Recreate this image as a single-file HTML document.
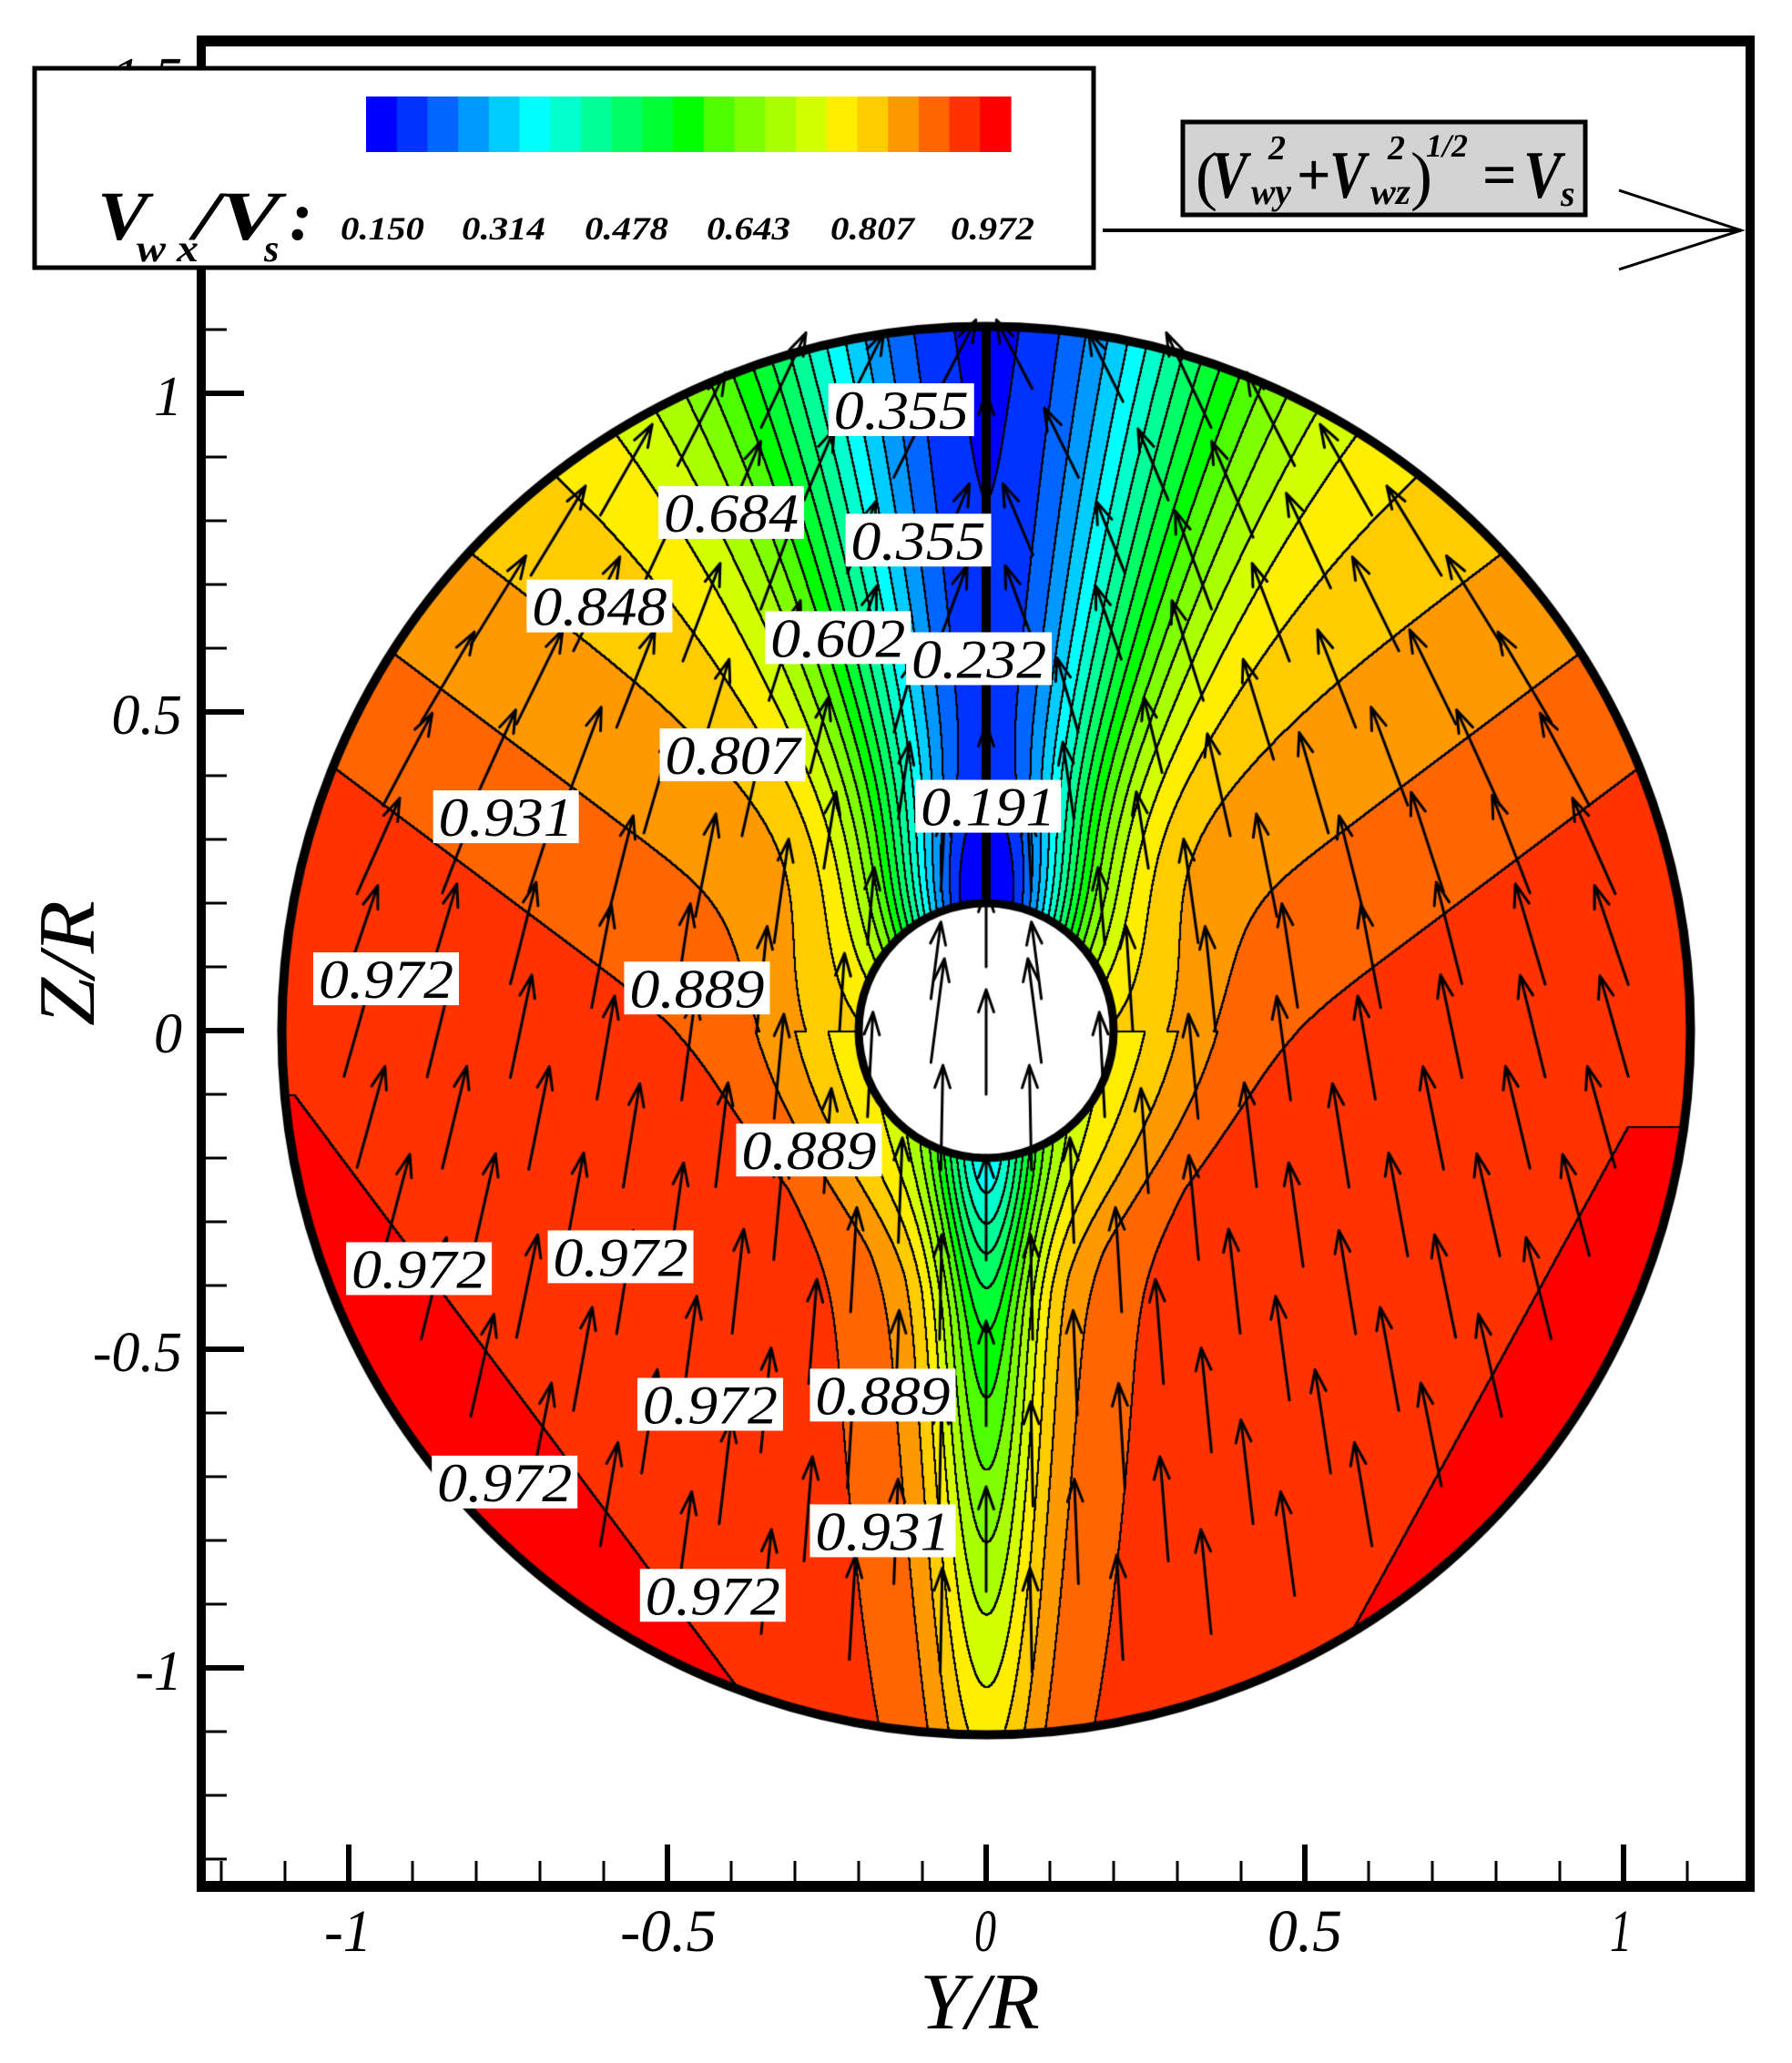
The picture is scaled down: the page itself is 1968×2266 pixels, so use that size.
<!DOCTYPE html>
<html><head><meta charset="utf-8"><style>
html,body{margin:0;padding:0;background:#fff;}
#wrap{position:relative;width:1968px;height:2266px;overflow:hidden;}
canvas,svg{position:absolute;left:0;top:0;}
</style></head><body><div id="wrap">
<canvas id="c" width="1968" height="2266"></canvas>
<svg width="1968" height="2266" viewBox="0 0 1968 2266" font-family="'Liberation Serif',serif">
<g id="ticks" stroke="#000"></g>
<rect x="221" y="45" width="1701" height="2027" fill="none" stroke="#000" stroke-width="10"/>
<line x1="216" y1="45" x2="1927" y2="45" stroke="#000" stroke-width="12"/>
<line x1="216" y1="2072" x2="1927" y2="2072" stroke="#000" stroke-width="12"/>
<g font-style="italic" font-size="66">
<text x="382" y="2143" text-anchor="middle" textLength="52" lengthAdjust="spacingAndGlyphs">-1</text>
<text x="734" y="2143" text-anchor="middle" textLength="106" lengthAdjust="spacingAndGlyphs">-0.5</text>
<text x="1082" y="2143" text-anchor="middle" textLength="24" lengthAdjust="spacingAndGlyphs">0</text>
<text x="1433" y="2143" text-anchor="middle" textLength="82" lengthAdjust="spacingAndGlyphs">0.5</text>
<text x="1780" y="2143" text-anchor="middle" textLength="24" lengthAdjust="spacingAndGlyphs">1</text>
</g>
<g font-style="italic" font-size="62" text-anchor="end">
<text x="200" y="456">1</text>
<text x="200" y="806">0.5</text>
<text x="200" y="1156">0</text>
<text x="200" y="1506">-0.5</text>
<text x="200" y="1856">-1</text>
<text x="200" y="106">1.5</text>
</g>
<text x="1076" y="2228" text-anchor="middle" font-style="italic" font-size="88" textLength="132" lengthAdjust="spacingAndGlyphs">Y/R</text>
<text transform="translate(103,1058) rotate(-90)" text-anchor="middle" font-style="italic" font-size="88" textLength="138" lengthAdjust="spacingAndGlyphs">Z/R</text>
<rect x="38" y="75" width="1163" height="219" fill="#fff" stroke="#000" stroke-width="5"/>
<g id="cbar"></g>
<g font-weight="bold" font-style="italic">
<text x="107" y="263" font-size="76" textLength="56" lengthAdjust="spacingAndGlyphs">V</text>
<text x="150" y="287" font-size="42" textLength="68" lengthAdjust="spacingAndGlyphs">w x</text>
<text x="213" y="263" font-size="76" textLength="95" lengthAdjust="spacingAndGlyphs">/V</text>
<text x="290" y="287" font-size="42">s</text>
<text x="318" y="263" font-size="76">:</text>
</g>
<g font-weight="bold" font-style="italic" font-size="36" text-anchor="middle">
<text x="420" y="263" textLength="92" lengthAdjust="spacingAndGlyphs">0.150</text>
<text x="553" y="263" textLength="92" lengthAdjust="spacingAndGlyphs">0.314</text>
<text x="688" y="263" textLength="92" lengthAdjust="spacingAndGlyphs">0.478</text>
<text x="822" y="263" textLength="92" lengthAdjust="spacingAndGlyphs">0.643</text>
<text x="958" y="263" textLength="92" lengthAdjust="spacingAndGlyphs">0.807</text>
<text x="1090" y="263" textLength="92" lengthAdjust="spacingAndGlyphs">0.972</text>
</g>
<rect x="1299" y="134" width="442" height="102" fill="#d3d3d3" stroke="#000" stroke-width="5"/>
<g font-weight="bold" font-style="italic">
<text x="1313" y="217" font-size="72" font-style="normal" font-weight="normal">(</text>
<text x="1330" y="217" font-size="74" textLength="40" lengthAdjust="spacingAndGlyphs">V</text>
<text x="1374" y="224" font-size="40" textLength="44" lengthAdjust="spacingAndGlyphs">wy</text>
<text x="1393" y="175" font-size="38">2</text>
<text x="1424" y="214" font-size="66" font-style="normal">+</text>
<text x="1460" y="217" font-size="74" textLength="40" lengthAdjust="spacingAndGlyphs">V</text>
<text x="1505" y="224" font-size="40" textLength="44" lengthAdjust="spacingAndGlyphs">wz</text>
<text x="1524" y="175" font-size="38">2</text>
<text x="1549" y="217" font-size="72" font-style="normal" font-weight="normal">)</text>
<text x="1566" y="172" font-size="36" textLength="46" lengthAdjust="spacingAndGlyphs">1/2</text>
<text x="1628" y="214" font-size="66" font-style="normal">=</text>
<text x="1673" y="217" font-size="74" textLength="42" lengthAdjust="spacingAndGlyphs">V</text>
<text x="1714" y="226" font-size="40">s</text>
</g>
<line x1="1211" y1="253" x2="1912" y2="253" stroke="#000" stroke-width="4"/>
<polyline points="1778,209 1912,253 1778,296" fill="none" stroke="#000" stroke-width="3"/>
<g id="labs" font-style="italic" font-size="60"></g>
</svg>
</div>
<script>
var CX=1083,CY=1132,S=700,RO=1.105,RI=0.2;
var cols=["#0000ff","#0033ff","#0066ff","#0099ff","#00ccff","#00ffff","#00ffcc","#00ff99","#00ff66","#00ff33","#00ff00","#4dff00","#80ff00","#aaff00","#d4ff00","#ffee00","#ffcc00","#ff9900","#ff6600","#ff3300","#ff0000"];
function hex(h){return [parseInt(h.substr(1,2),16),parseInt(h.substr(3,2),16),parseInt(h.substr(5,2),16)];}
var rgb=cols.map(hex);
function f(y,z){
  var r=Math.hypot(y,z),ay=Math.abs(y);
  var s=z-0.75*ay+0.43;
  var base=0.931-0.165*(s-0.075);
  if(base>0.952)base=0.952;
  if(y<0){var d=-0.801*y-0.599*z-0.93; if(d>0&&z<-0.1)base=0.985;}
  else{var d2=0.877*y-0.48*z-0.955; if(d2>0&&z<-0.15)base=0.985;}
  var v;
  if(z>=0){
    var w=0.09+0.25*z;
    v=base*(1-0.74*Math.exp(-(y/w)*(y/w)));
  }else{
    var az=-z, D=0.51-0.38*(az-0.2); if(D<0.14)D=0.14;
    v=base*(1-D*(0.7*Math.exp(-(y/0.075)*(y/0.075))+0.3*Math.exp(-(y/0.18)*(y/0.18))));
  }
  v-=0.08*Math.exp(-Math.pow((r-0.2)/0.15,2));
  return v;
}
function band(v){var k=Math.floor((v-0.15)/0.0411);if(k<0)k=0;if(k>20)k=20;return k;}
var cv=document.getElementById('c'),ctx=cv.getContext('2d');
var x0=Math.floor(CX-RO*S)-2,x1=Math.ceil(CX+RO*S)+2,y0=Math.floor(CY-RO*S)-2,y1=Math.ceil(CY+RO*S)+2;
var bw=x1-x0,bh=y1-y0;
var K=new Int8Array(bw*bh);
for(var j=0;j<bh;j++)for(var i=0;i<bw;i++){
  var y=(x0+i-CX)/S,z=(CY-(y0+j))/S,r=Math.hypot(y,z);
  if(r>RO||r<RI){K[j*bw+i]=-1;continue;}
  K[j*bw+i]=band(f(y,z));
}
var img=ctx.createImageData(bw,bh),dd=img.data;
for(var j=0;j<bh;j++)for(var i=0;i<bw;i++){
  var idx=j*bw+i,k=K[idx],p=idx*4;
  if(k<0){dd[p]=255;dd[p+1]=255;dd[p+2]=255;dd[p+3]=0;continue;}
  var edge=false;
  for(var a=-1;a<=1&&!edge;a++)for(var b=-1;b<=1;b++){
    var ii=i+a,jj=j+b; if(ii<0||jj<0||ii>=bw||jj>=bh)continue;
    var k2=K[jj*bw+ii]; if(k2>=0&&k2!=k){edge=true;break;}
  }
  if(edge){dd[p]=0;dd[p+1]=0;dd[p+2]=0;dd[p+3]=255;}
  else{var c=rgb[k];dd[p]=c[0];dd[p+1]=c[1];dd[p+2]=c[2];dd[p+3]=255;}
}
ctx.putImageData(img,x0,y0);
ctx.fillStyle="#000";ctx.fillRect(CX-5,CY-RO*S,10,(RO-RI)*S);
ctx.fillStyle="#fff";ctx.beginPath();ctx.arc(CX,CY,RI*S-2,0,2*Math.PI);ctx.fill();
ctx.strokeStyle="#000";ctx.lineWidth=3;ctx.lineCap="round";
function arrow(px,py,dx,dy){
  ctx.beginPath();ctx.moveTo(px,py);ctx.lineTo(px+dx,py+dy);
  var L=Math.hypot(dx,dy),ux=dx/L,uy=dy/L,h=26,ca=Math.cos(0.33),sa=Math.sin(0.33);
  var ex=px+dx,ey=py+dy;
  ctx.moveTo(ex,ey);ctx.lineTo(ex-h*(ux*ca-uy*sa),ey-h*(uy*ca+ux*sa));
  ctx.moveTo(ex,ey);ctx.lineTo(ex-h*(ux*ca+uy*sa),ey-h*(uy*ca-ux*sa));
  ctx.stroke();
}
for(var rr=0.1;rr<=1.06;rr+=0.13){
  var n=Math.max(6,Math.round(2*Math.PI*rr/0.145));
  for(var q=0;q<n;q++){
    var th=(q+0.5*((Math.round(rr*100))%2))*2*Math.PI/n;
    var y=rr*Math.sin(th),z=-rr*Math.cos(th);
    var zp=Math.max(0,z);
    var vy=1-0.9*Math.exp(-(y/0.3)*(y/0.3))*Math.min(1,zp*2);
    var vx=-y*(0.28+0.8*zp);
    if(rr<0.2){vx=-y*1.5;vy=1;}
    var L=Math.hypot(vx,vy),len=(z>0&&Math.abs(y)<0.3)?85:115;
    arrow(CX+y*S,CY-z*S,vx/L*len,-vy/L*len);
  }
}
ctx.lineWidth=10;ctx.beginPath();ctx.arc(CX,CY,RO*S,0,2*Math.PI);ctx.stroke();
ctx.lineWidth=9;ctx.beginPath();ctx.arc(CX,CY,RI*S,0,2*Math.PI);ctx.stroke();
var NS="http://www.w3.org/2000/svg";
function el(tag,attrs,par,txt){var e=document.createElementNS(NS,tag);for(var k in attrs)e.setAttribute(k,attrs[k]);if(txt)e.textContent=txt;par.appendChild(e);return e;}
var tg=document.getElementById('ticks');
for(var t=-13;t<=17;t++){
  var yy=CY-t*0.1*S; if(yy<50||yy>2066)continue;
  var maj=(t%5===0);el('line',{x1:221,y1:yy,x2:221+(maj?47:28),y2:yy,'stroke-width':maj?6:3},tg);
}
for(var t=-12;t<=12;t++){
  var xx=CX+t*0.1*S; if(xx<225||xx>1918)continue;
  var maj=(t%5===0);el('line',{x1:xx,y1:2072,x2:xx,y2:2072-(maj?46:28),'stroke-width':maj?6:3},tg);
}
var cb=document.getElementById('cbar'),cw=(1110-402)/21;
for(var k=0;k<21;k++)el('rect',{x:402+k*cw,y:106,width:cw+0.6,height:61,fill:cols[k]},cb);
var labs=[[684,311,"0.355"],[555,389,"0.684"],[697,410,"0.355"],[455,460,"0.848"],[636,484,"0.602"],[743,500,"0.232"],[556,573,"0.807"],[384,620,"0.931"],[750,612,"0.191"],[293,743,"0.972"],[529,750,"0.889"],[614,873,"0.889"],[318,963,"0.972"],[471,954,"0.972"],[539,1066,"0.972"],[670,1059,"0.889"],[383,1125,"0.972"],[670,1162,"0.931"],[541,1211,"0.972"]];
var lg=document.getElementById('labs');
labs.forEach(function(l){var x=l[0]*1.447,y=l[1]*1.447;
  el('rect',{x:x-80,y:y-29,width:160,height:58,fill:'#fff'},lg);
  el('text',{x:x,y:y+21,'text-anchor':'middle',textLength:148,lengthAdjust:'spacingAndGlyphs'},lg,l[2]);});
</script>
</body></html>
